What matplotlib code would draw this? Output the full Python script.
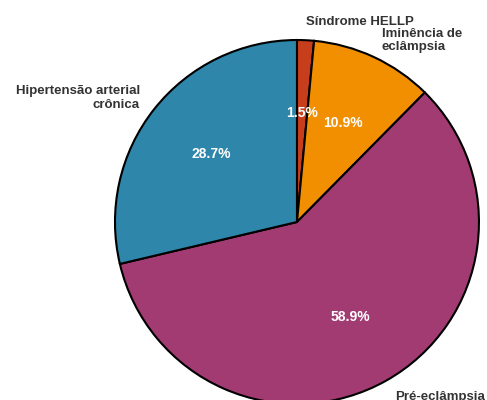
import matplotlib
matplotlib.use("Agg")
import matplotlib.pyplot as plt

plt.rcParams['font.family'] = ['Liberation Sans', 'DejaVu Sans']

categories = ["Síndrome HELLP", "Iminência de\neclâmpsia", "Pré-eclâmpsia",
              "Hipertensão arterial\ncrônica"]
values = [1.5, 10.9, 58.9, 28.7]
colors = ["#C73E1D", "#F18F01", "#A23B72", "#2E86AB"]

fig = plt.figure(figsize=(4.87, 4.0), dpi=100)
ax = fig.add_axes([0.2361, -0.01, 0.7474, 0.91])

wedges, texts, autotexts = ax.pie(
    values, labels=categories, colors=colors, startangle=90, counterclock=False,
    autopct='%1.1f%%', pctdistance=0.6, labeldistance=1.1,
    wedgeprops=dict(edgecolor='black', linewidth=1.5),
    textprops=dict(fontsize=9.5, fontweight='bold', color='#333333'))
for t in autotexts:
    t.set_color('white')
    t.set_fontsize(10)
    t.set_fontweight('bold')
for t in texts:
    t.set_clip_on(False)

ax.set_xlim(-1, 1)
ax.set_ylim(-1, 1)
ax.set_aspect('equal')
ax.axis('off')

fig.savefig("out.png", dpi=100)
